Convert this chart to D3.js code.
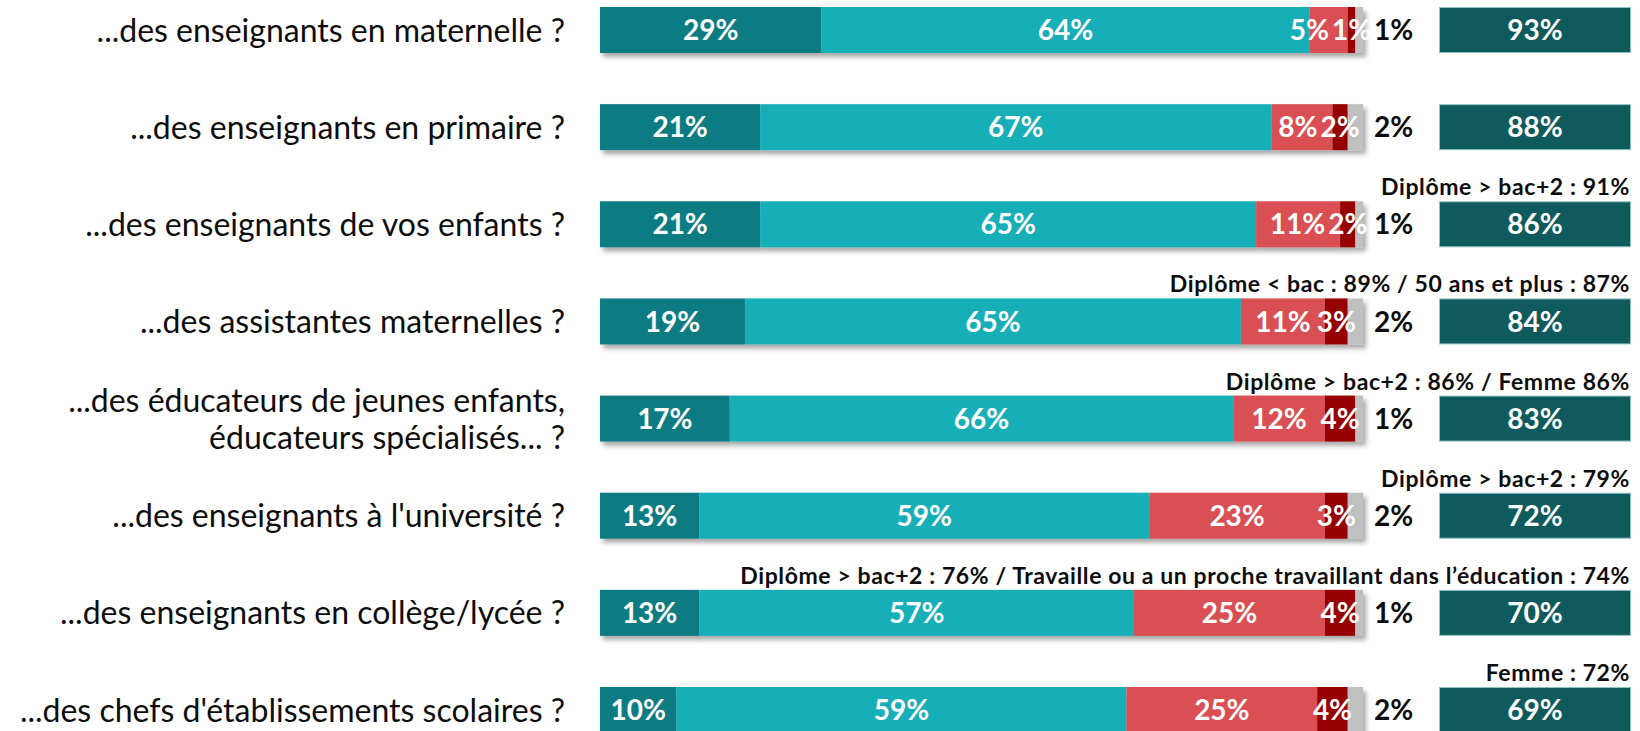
<!DOCTYPE html>
<html lang="fr">
<head>
<meta charset="utf-8">
<script src="https://cdn.jsdelivr.net/npm/d3@7"></script>
<style>
  html, body { margin: 0; padding: 0; background: #fff; }
  svg { display: block; font-family: Lato, "Open Sans", sans-serif; }
</style>
</head>
<body>
<svg id="chart" width="1640" height="731"></svg>
<script>
// Categories (each entry is a list of label lines)
const categories = [
  ["...des enseignants en maternelle ?"],
  ["...des enseignants en primaire ?"],
  ["...des enseignants de vos enfants ?"],
  ["...des assistantes maternelles ?"],
  ["...des éducateurs de jeunes enfants,", "éducateurs spécialisés... ?"],
  ["...des enseignants à l'université ?"],
  ["...des enseignants en collège/lycée ?"],
  ["...des chefs d'établissements scolaires ?"]
];

// Series values (%)
const toutAFait   = [29, 21, 21, 19, 17, 13, 13, 10];
const plutot      = [64, 67, 65, 65, 66, 59, 57, 59];
const plutotPas   = [5, 8, 11, 11, 12, 23, 25, 25];
const pasDuTout   = [1, 2, 2, 3, 4, 3, 4, 4];
const nsp         = [1, 2, 1, 2, 1, 2, 1, 2];
const totalConfiance = [93, 88, 86, 84, 83, 72, 70, 69];

// Sub-group notes shown above the totals
const notes = [
  "",
  "",
  "Diplôme > bac+2 : 91%",
  "Diplôme < bac : 89% / 50 ans et plus : 87%",
  "Diplôme > bac+2 : 86% / Femme 86%",
  "Diplôme > bac+2 : 79%",
  "Diplôme > bac+2 : 76% / Travaille ou a un proche travaillant dans l’éducation : 74%",
  "Femme : 72%"
];

const seriesNames = ["toutAFait", "plutot", "plutotPas", "pasDuTout", "nsp"];
const seriesValues = [toutAFait, plutot, plutotPas, pasDuTout, nsp];
const seriesColors = ["#117B82", "#14AFB7", "#D94F52", "#960000", "#C0C0C0"];

const svg = d3.select("#chart");

// Soft drop shadow under the stacked bars
const defs = svg.append("defs");
const f = defs.append("filter").attr("id", "shadow")
  .attr("x", "-5%").attr("y", "-30%").attr("width", "115%").attr("height", "180%");
f.append("feDropShadow").attr("dx", 3).attr("dy", 4).attr("stdDeviation", 2.5)
  .attr("flood-color", "#000").attr("flood-opacity", 0.35);

const rows = categories.map((c, i) => {
  const r = { idx: i };
  seriesNames.forEach((k, j) => r[k] = seriesValues[j][i]);
  return r;
});

const stacked = d3.stack().keys(seriesNames)(rows);

const x = d3.scaleLinear().domain([0, 100]).range([600, 1363]);
const y = d3.scaleBand().domain(d3.range(categories.length))
  .range([7, 733]).paddingInner(0.5265).paddingOuter(0);
const bw = y.bandwidth();

// Category labels
const labelX = 565;
const catG = svg.append("g");
categories.forEach((lines, i) => {
  const cy = y(i) + bw / 2;
  const lh = 37;
  const t = catG.append("text")
    .attr("text-anchor", "end")
    .attr("font-size", 32)
    .attr("fill", "#0d0d0d");
  lines.forEach((ln, k) => {
    t.append("tspan")
      .attr("x", labelX)
      .attr("y", cy + (k - (lines.length - 1) / 2) * lh)
      .attr("dy", "0.36em")
      .text(ln);
  });
});

// Stacked bars
const barsG = svg.append("g").attr("filter", "url(#shadow)");
stacked.forEach((s, j) => {
  barsG.selectAll(null).data(s).enter().append("rect")
    .attr("x", d => x(d[0]))
    .attr("y", (d, i) => y(i))
    .attr("width", d => x(d[1]) - x(d[0]))
    .attr("height", bw)
    .attr("fill", seriesColors[j]);
});

// Value labels inside the segments (first four series)
const valG = svg.append("g").attr("font-weight", 700).attr("font-size", 28)
  .attr("fill", "#fff").attr("text-anchor", "middle");
rows.forEach((r, i) => {
  const cy = y(i) + bw / 2;
  const placed = [];
  for (let j = 0; j < 4; j++) {
    const d = stacked[j][i];
    placed.push(valG.append("text")
      .attr("x", (x(d[0]) + x(d[1])) / 2)
      .attr("y", cy)
      .attr("dy", "0.36em")
      .text(seriesValues[j][i] + "%"));
  }
  // keep the small right-hand labels from overlapping: push left if needed
  for (let j = 3; j > 0; j--) {
    const right = placed[j].node().getBBox();
    const left = placed[j - 1].node().getBBox();
    const overlap = left.x + left.width + 3 - right.x;
    if (overlap > 0) {
      placed[j - 1].attr("x", +placed[j - 1].attr("x") - overlap);
    }
  }
});

// "Ne se prononce pas" value, outside the bar
svg.append("g").selectAll("text").data(rows).enter().append("text")
  .attr("x", 1374)
  .attr("y", (d, i) => y(i) + bw / 2)
  .attr("dy", "0.36em")
  .attr("font-weight", 700).attr("font-size", 28).attr("fill", "#0d0d0d")
  .text(d => d.nsp + "%");

// Total boxes
const boxX0 = 1439, boxX1 = 1631;
const totG = svg.append("g");
totG.selectAll("rect").data(totalConfiance).enter().append("rect")
  .attr("x", boxX0 + 0.5)
  .attr("y", (d, i) => y(i) + 0.5)
  .attr("width", boxX1 - boxX0 - 1)
  .attr("height", bw - 1)
  .attr("fill", "#0E5A5D")
  .attr("stroke", "#8FC3C3")
  .attr("stroke-width", 1);
totG.selectAll("text").data(totalConfiance).enter().append("text")
  .attr("x", (boxX0 + boxX1) / 2)
  .attr("y", (d, i) => y(i) + bw / 2)
  .attr("dy", "0.36em")
  .attr("text-anchor", "middle")
  .attr("font-weight", 700).attr("font-size", 28).attr("fill", "#fff")
  .text(d => d + "%");

// Notes above the totals
svg.append("g").selectAll("text").data(notes).enter().append("text")
  .attr("x", 1630)
  .attr("y", (d, i) => y(i) - 6)
  .attr("text-anchor", "end")
  .attr("font-weight", 700).attr("font-size", 23)
  .attr("letter-spacing", 0.6).attr("fill", "#0d0d0d")
  .text(d => d);
</script>
</body>
</html>
